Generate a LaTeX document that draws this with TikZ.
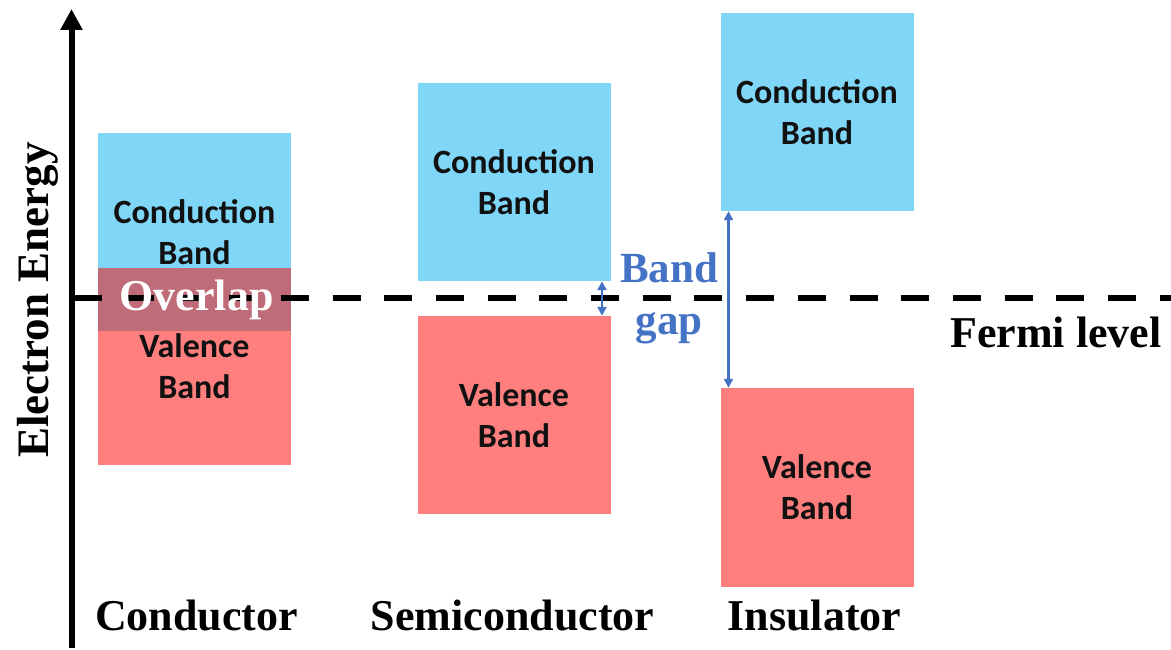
\documentclass[tikz,border=0pt]{standalone}
\usepackage{fontspec}
\setmainfont{Liberation Serif}
\newfontfamily\bandfont{Carlito}
\usetikzlibrary{arrows.meta}
\definecolor{cbcol}{HTML}{7FD6F6}
\definecolor{vbcol}{HTML}{FF7F7F}
\definecolor{ovcol}{RGB}{192,108,120}
\definecolor{gapblue}{HTML}{4472C4}
\definecolor{txtdark}{HTML}{111111}
\tikzset{
  bandbox/.style={draw=none, inner sep=0pt, minimum width=193pt, align=center,
    font=\bandfont\bfseries\fontsize{34}{41}\selectfont, text=txtdark},
  cband/.style={bandbox, fill=cbcol},
  vband/.style={bandbox, fill=vbcol},
  bigserif/.style={font=\bfseries\fontsize{44}{48}\selectfont, inner sep=0pt, anchor=base},
  gaparrow/.style={draw=gapblue, line width=2.5pt, {Triangle[width=9pt,length=9pt]}-{Triangle[width=9pt,length=9pt]}},
  fermidash/.style={line width=6pt, dash pattern=on 28pt off 23.7pt}
}
\begin{document}
\begin{tikzpicture}[x=1pt,y=-1pt]
\useasboundingbox (0,0) rectangle (1171,650);
% Conductor
\node[cband, minimum height=198pt] (c1cb) at (194.5,232) {Conduction\\Band};
\node[vband, minimum height=197pt] (c1vb) at (194.5,366.5) {Valence\\Band};
\node[draw=none, fill=ovcol, minimum width=193pt, minimum height=63pt, inner sep=0pt] (ov) at (194.5,299.5) {};
% Semiconductor
\node[cband, minimum height=198pt] (s1cb) at (514,182) {Conduction\\Band};
\node[vband, minimum height=198pt] (s1vb) at (514,415) {Valence\\Band};
% Insulator
\node[cband, minimum height=198pt] (i1cb) at (817,112) {Conduction\\Band};
\node[vband, minimum height=199pt] (i1vb) at (817,487.5) {Valence\\Band};
% Axis
\coordinate (axb) at (71.5,648);
\coordinate (axt) at (71.5,9);
\draw[line width=6pt, -{Triangle[width=21pt,length=21pt]}] (axb) -- (axt);
% Fermi level dashed line
\coordinate (fl0) at (74,298);
\coordinate (fl1) at (1171,298);
\draw[fermidash] (fl0) -- (fl1);
\node[bigserif, text=white, font=\bfseries\fontsize{44}{48}\selectfont] (ovt) at (196.5,310) {Overlap};
% Band gap arrows
\draw[gaparrow] (s1cb.south -| 602,0) -- (s1vb.north -| 602,0);
\draw[gaparrow] (i1cb.south -| 728.5,0) -- (i1vb.north -| 728.5,0);
\node[bigserif, text=gapblue, font=\bfseries\fontsize{43}{46}\selectfont] (bgt1) at (669,282) {Band};
\node[bigserif, text=gapblue, font=\bfseries\fontsize{43}{46}\selectfont] (bgt2) at (669,334) {gap};
\node[bigserif, font=\bfseries\fontsize{44}{48}\selectfont] (fermi) at (1056,347) {Fermi level};
% Axis label
\node[bigserif, rotate=90, font=\bfseries\fontsize{45}{48}\selectfont] (ylab) at (48,300) {Electron Energy};
% Material labels
\node[bigserif] (lc) at (196.5,630) {Conductor};
\node[bigserif] (ls) at (512.5,630) {Semiconductor};
\node[bigserif] (li) at (814.5,630) {Insulator};
\end{tikzpicture}
\end{document}
